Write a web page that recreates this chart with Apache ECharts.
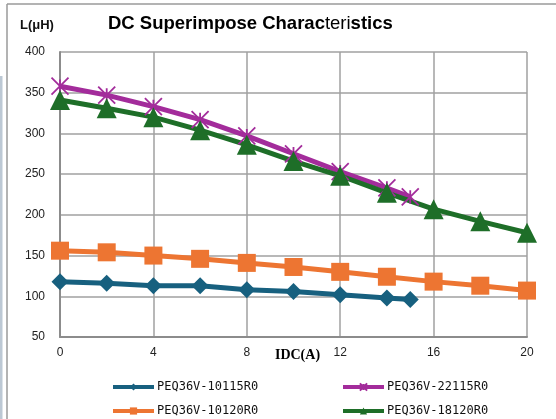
<!DOCTYPE html>
<html>
<head>
<meta charset="utf-8">
<script src="https://cdn.jsdelivr.net/npm/echarts@6/dist/echarts.min.js"></script>
<style>
html,body{margin:0;padding:0;background:#fff;}
#chart{width:556px;height:419px;}
</style>
</head>
<body>
<div id="chart"></div>
<script>
// ---- data ----
const names = ['PEQ36V-10115R0', 'PEQ36V-10120R0', 'PEQ36V-22115R0', 'PEQ36V-18120R0'];
const xShort = [0, 2, 4, 6, 8, 10, 12, 14, 15];
const xLong = [0, 2, 4, 6, 8, 10, 12, 14, 16, 18, 20];
const val10115 = [118, 116, 113, 113, 108, 106, 102, 98, 96];
const val10120 = [156, 154, 150, 146, 141, 136, 130, 124, 118, 113, 107];
const val22115 = [358, 347, 333, 317, 297, 275, 253, 233, 222];
const val18120 = [341, 331, 320, 304, 286, 266, 248, 227, 207, 192, 178];
const xTicks = [0, 4, 8, 12, 16, 20];
const yTicks = [50, 100, 150, 200, 250, 300, 350, 400];

const colors = ['#17607f', '#ed7532', '#a32c9b', '#1e6e28'];
const pair = (xs, ys) => xs.map((x, i) => [x, ys[i]]);

const chart = echarts.init(document.getElementById('chart'));
const asterisk = 'path://M0,0L20,20M20,0L0,20M10,2L10,18';

function mk(name, xs, ys, color, symbol, size, extra) {
  return Object.assign({
    name: name,
    type: 'line',
    data: pair(xs, ys),
    symbol: symbol,
    symbolSize: size,
    showAllSymbol: true,
    clip: false,
    lineStyle: { color: color, width: 5 },
    itemStyle: { color: color },
    emphasis: { disabled: true }
  }, extra || {});
}

const legendBase = {
  orient: 'vertical', top: 381, padding: 0, height: 38,
  itemWidth: 41, itemHeight: 9, itemGap: 12,
  lineStyle: { width: 4 },
  textStyle: { fontFamily: '"DejaVu Sans Mono", monospace', fontSize: 12, lineHeight: 12, color: '#111', padding: [0, 0, 0, -2] }
};

chart.setOption({
  backgroundColor: '#ffffff',
  animation: false,
  graphic: [
    { type: 'line', shape: { x1: 7, y1: 4, x2: 7, y2: 419 }, style: { stroke: '#9a9a9a', lineWidth: 1.5 } },
    { type: 'line', shape: { x1: 7, y1: 4, x2: 556, y2: 4 }, style: { stroke: '#9a9a9a', lineWidth: 1.5 } },
    { type: 'rect', shape: { x: 0, y: 76, width: 2.5, height: 343 }, style: { fill: '#bcc8d4' } },
    { type: 'text', left: 20, top: 19, style: { text: 'L(μH)', font: 'bold 13px "Liberation Sans", Arial, sans-serif', fill: '#111' } },
    { type: 'text', left: 108, top: 14, style: {
        text: '{b|DC Superimpose Charac}{n|teri}{b|stics}',
        rich: {
          b: { font: 'bold 18.5px "Liberation Sans", Arial, sans-serif', fill: '#000' },
          n: { font: '18.5px "Liberation Sans", Arial, sans-serif', fill: '#000' }
        }
    } }
  ],
  grid: { left: 60, right: 29, top: 52, height: 285, containLabel: false },
  xAxis: {
    type: 'value', min: 0, max: 20, interval: 4,
    name: 'IDC(A)', nameLocation: 'middle', nameGap: 11, nameMoveOverlap: false,
    nameTextStyle: { fontFamily: '"Liberation Serif", "Times New Roman", serif', fontWeight: 'bold', fontSize: 14, color: '#000', padding: [0, 0, 0, 8], verticalAlign: 'top' },
    axisLine: { show: true, lineStyle: { color: '#8c8c8c', width: 2 } },
    axisTick: { show: false },
    axisLabel: { margin: 10, fontSize: 12, color: '#222', fontFamily: '"Liberation Sans", Arial, sans-serif',
      formatter: v => xTicks.includes(v) ? String(v) : '' },
    splitLine: { show: true, lineStyle: { color: '#a0a0a0', width: 1.5 } }
  },
  yAxis: {
    type: 'value', min: 50, max: 400, interval: 50,
    axisLine: { show: true, lineStyle: { color: '#8c8c8c', width: 2 } },
    axisTick: { show: false },
    axisLabel: { margin: 15, fontSize: 12, color: '#222', fontFamily: '"Liberation Sans", Arial, sans-serif',
      formatter: v => yTicks.includes(v) ? String(v) : '' },
    splitLine: { show: true, lineStyle: { color: '#a0a0a0', width: 1.5 } }
  },
  legend: [
    Object.assign({ data: [names[0], names[1]], left: 111 }, legendBase),
    Object.assign({ data: [names[2], names[3]], left: 341 }, legendBase)
  ],
  series: [
    mk(names[0], xShort, val10115, colors[0], 'diamond', 17),
    mk(names[1], xLong, val10120, colors[1], 'rect', 18),
    mk(names[2], xShort, val22115, colors[2], asterisk, 17, { itemStyle: { color: colors[2], borderColor: colors[2], borderWidth: 1.8 } }),
    mk(names[3], xLong, val18120, colors[3], 'triangle', 20)
  ]
});
</script>
</body>
</html>
